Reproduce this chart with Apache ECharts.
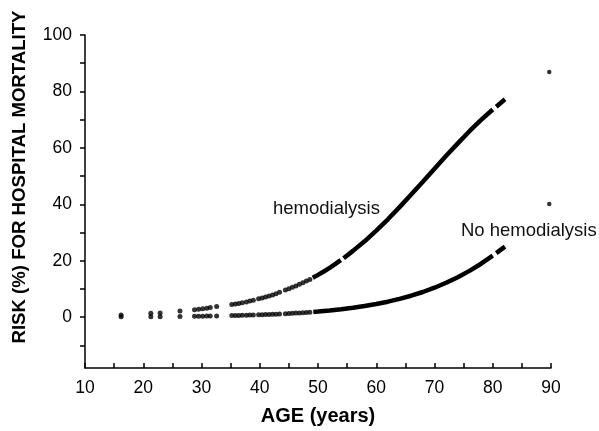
<!DOCTYPE html>
<html>
<head>
<meta charset="utf-8">
<script src="https://cdn.jsdelivr.net/npm/echarts@6/dist/echarts.min.js"></script>
<style>
  html, body { margin: 0; padding: 0; background: #fff; }
  #chart { width: 599px; height: 431px; }
</style>
</head>
<body>
<div id="chart"></div>
<script>
// separate dots at the young ages (age, risk %)
const hemoDotAge = [16.2, 21.3, 22.9, 26.3, 28.8, 29.5, 30.2, 30.9, 31.5, 32.6,
  35.2, 35.8, 36.4, 37.0, 37.7, 38.3, 38.9,
  39.8, 40.4, 41.0, 41.6, 42.2, 42.8, 43.4,
  44.4, 45.0, 45.6, 46.2, 46.8, 47.4, 48.0, 48.6];
const hemoDotRisk = [0.8, 1.4, 1.5, 2.2, 2.6, 2.8, 3.0, 3.2, 3.4, 3.8,
  4.5, 4.7, 4.9, 5.1, 5.4, 5.7, 6.0,
  6.5, 6.8, 7.2, 7.5, 7.9, 8.3, 8.8,
  9.6, 10.1, 10.6, 11.1, 11.7, 12.2, 12.8, 13.4];
const noHemoDotAge = hemoDotAge;
const noHemoDotRisk = [0.2, 0.17, 0.19, 0.26, 0.32, 0.34, 0.37, 0.39, 0.41, 0.45,
  0.56, 0.59, 0.63, 0.66, 0.70, 0.74, 0.78,
  0.84, 0.88, 0.93, 0.98, 1.03, 1.09, 1.14,
  1.25, 1.31, 1.38, 1.45, 1.53, 1.61, 1.69, 1.78];

// dense part of the curves; null = small gap in the dots
const hemoAge = [49.1, 50, 51, 52, 53, 53.9, 54.1, 54.4, 56, 58, 60, 62, 64, 66, 68, 70, 72, 74, 76, 78, 80.0, 80.3, 80.6, 82.1];
const hemoRisk = [14.0, 15.0, 16.2, 17.5, 18.9, 20.2, null, 20.9, 23.5, 26.9, 30.7, 34.7, 39.0, 43.5, 48.0, 52.6, 57.2, 61.6, 65.9, 69.9, 73.6, null, 74.6, 77.2];
const noHemoAge = [49.2, 50, 52, 54, 56, 58, 60, 62, 64, 66, 68, 70, 72, 74, 76, 78, 80.0, 80.3, 80.6, 82.1];
const noHemoRisk = [1.88, 2.01, 2.39, 2.83, 3.34, 3.95, 4.67, 5.50, 6.48, 7.61, 8.93, 10.45, 12.2, 14.18, 16.42, 18.95, 21.8, null, 22.7, 25.0];

// two single points at the oldest age
const oldAge = [89.7, 89.7];
const oldRisk = [86.9, 40.1];

const yLabels = [0, 20, 40, 60, 80, 100];
const yTicks = [-10, 0, 10, 20, 30, 40, 50, 60, 70, 80, 90, 100];

const FONT = 'Arial, "Liberation Sans", sans-serif';

const pairs = (xs, ys) => xs.map((x, i) => [x, ys[i] === null ? '-' : ys[i]]);

const chart = echarts.init(document.getElementById('chart'));

const option = {
  animation: false,
  backgroundColor: '#fff',
  grid: { left: 85, right: 48, top: 35, bottom: 60 },
  xAxis: {
    type: 'value',
    min: 10,
    max: 90,
    interval: 10,
    name: 'AGE (years)',
    nameLocation: 'middle',
    nameGap: 38,
    nameTextStyle: { color: '#000', fontFamily: FONT, fontSize: 20, fontWeight: 'bold' },
    axisLine: { onZero: false, lineStyle: { color: '#000', width: 1.5 } },
    axisTick: { inside: true, length: 5, lineStyle: { color: '#000', width: 1.5 } },
    minorTick: { show: true, splitNumber: 2, length: 5, lineStyle: { color: '#000', width: 1.5 } },
    axisLabel: { color: '#000', fontFamily: FONT, fontSize: 17.5, margin: 11 },
    splitLine: { show: false }
  },
  yAxis: {
    type: 'value',
    min: -18,
    max: 100,
    axisLine: { show: true, onZero: false, lineStyle: { color: '#000', width: 1.5 } },
    axisTick: { show: true, length: 5, customValues: yTicks, lineStyle: { color: '#000', width: 1.5 } },
    axisLabel: { color: '#000', fontFamily: FONT, fontSize: 17.5, margin: 13, customValues: yLabels },
    splitLine: { show: false }
  },
  graphic: [
    {
      type: 'text',
      x: 20,
      y: 177,
      rotation: Math.PI / 2,
      style: {
        text: 'RISK (%) FOR HOSPITAL MORTALITY',
        fill: '#000',
        font: 'bold 18.6px ' + FONT,
        textAlign: 'center',
        textVerticalAlign: 'middle'
      }
    },
    {
      type: 'text',
      x: 273,
      y: 208.6,
      style: { text: 'hemodialysis', fill: '#111', font: '18.5px ' + FONT, textVerticalAlign: 'middle' }
    },
    {
      type: 'text',
      x: 461,
      y: 231,
      style: { text: 'No hemodialysis', fill: '#111', font: '18.5px ' + FONT, textVerticalAlign: 'middle' }
    }
  ],
  series: [
    {
      name: 'hemodialysis dots',
      type: 'scatter',
      symbolSize: 5,
      itemStyle: { color: '#000' },
      data: pairs(hemoDotAge, hemoDotRisk)
    },
    {
      name: 'no hemodialysis dots',
      type: 'scatter',
      symbolSize: 5,
      itemStyle: { color: '#000' },
      data: pairs(noHemoDotAge, noHemoDotRisk)
    },
    {
      name: 'hemodialysis',
      type: 'line',
      showSymbol: false,
      connectNulls: false,
      lineStyle: { color: '#000', width: 4.5, cap: 'butt' },
      data: pairs(hemoAge, hemoRisk)
    },
    {
      name: 'No hemodialysis',
      type: 'line',
      showSymbol: false,
      connectNulls: false,
      lineStyle: { color: '#000', width: 4.5, cap: 'butt' },
      data: pairs(noHemoAge, noHemoRisk)
    },
    {
      name: 'oldest',
      type: 'scatter',
      symbolSize: 4.5,
      itemStyle: { color: '#000' },
      data: pairs(oldAge, oldRisk)
    }
  ]
};

chart.setOption(option);
</script>
</body>
</html>
